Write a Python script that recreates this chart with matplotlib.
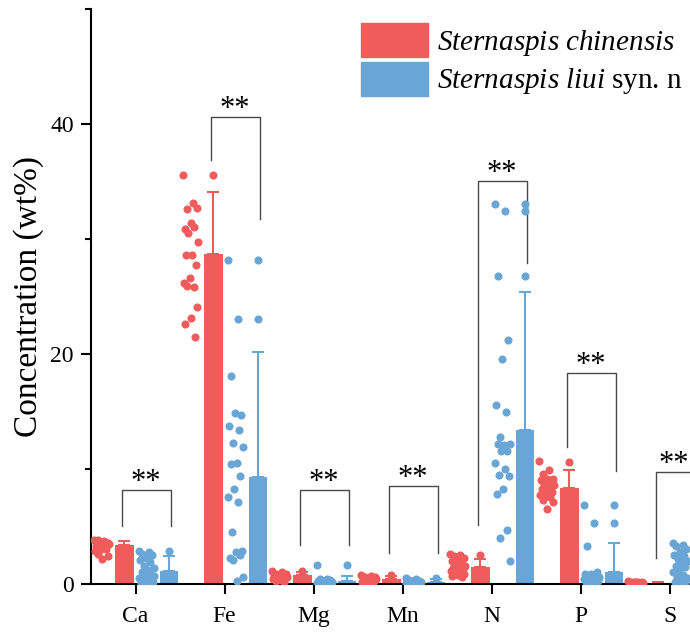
import numpy as np
import matplotlib
matplotlib.use('Agg')
import matplotlib.pyplot as plt
from matplotlib.patches import Patch
from matplotlib.ticker import MultipleLocator

plt.rcParams['font.family'] = ['Liberation Serif', 'DejaVu Serif']
plt.rcParams['mathtext.fontset'] = 'custom'
plt.rcParams['mathtext.rm'] = 'Liberation Serif'
plt.rcParams['mathtext.it'] = 'Liberation Serif:italic'

elements = ['Ca', 'Fe', 'Mg', 'Mn', 'N', 'P', 'S']

ca_chin = [3.8, 3.7, 3.8, 3.6, 3.5, 3.7, 3.4, 3.3, 3.5, 3.2, 3.1, 3.6, 3.0, 2.9, 3.4, 2.6, 2.4, 2.2, 3.3, 3.0]
ca_liui = [2.9, 2.8, 2.6, 2.5, 2.3, 2.1, 1.9, 1.6, 1.4, 1.2, 1.0, 0.8, 0.6, 0.5, 0.4, 0.3, 0.2, 0.2, 0.1, 0.15, 0.3, 0.7]
fe_chin = [35.6, 33.1, 32.6, 32.7, 31.4, 30.9, 31.0, 30.5, 29.7, 28.6, 28.6, 27.7, 26.6, 26.2, 25.8, 25.9, 24.1, 23.1, 22.6, 21.5]
fe_liui = [28.2, 23.0, 18.1, 14.7, 14.9, 13.7, 13.4, 12.3, 11.9, 10.5, 10.4, 9.4, 8.3, 7.6, 7.1, 4.5, 2.85, 2.8, 2.3, 2.5, 2.1, 0.65, 0.25]
mg_chin = [1.1, 1.0, 0.9, 0.9, 0.8, 0.8, 0.7, 0.7, 0.6, 0.6, 0.5, 0.5, 0.4, 0.4, 0.3, 0.3, 0.8, 0.7, 0.6, 0.2]
mg_liui = [1.65, 0.45, 0.4, 0.35, 0.3, 0.3, 0.25, 0.2, 0.2, 0.15, 0.15, 0.1, 0.1, 0.1, 0.05, 0.05, 0.2, 0.25, 0.3, 0.1]
mn_chin = [0.8, 0.7, 0.6, 0.6, 0.5, 0.5, 0.45, 0.4, 0.4, 0.35, 0.3, 0.3, 0.25, 0.2, 0.2, 0.15, 0.5, 0.4, 0.3, 0.25]
mn_liui = [0.55, 0.4, 0.35, 0.3, 0.3, 0.25, 0.2, 0.2, 0.15, 0.15, 0.1, 0.1, 0.1, 0.05, 0.05, 0.2, 0.15, 0.1, 0.25, 0.3]
n_chin = [2.6, 2.5, 2.4, 2.3, 2.2, 2.0, 1.9, 1.7, 1.6, 1.5, 1.4, 1.3, 1.2, 1.1, 1.0, 0.9, 0.9, 0.8, 0.7, 0.6]
n_liui = [33.0, 32.4, 26.8, 21.2, 19.6, 15.6, 14.95, 12.8, 12.2, 12.05, 12.2, 11.6, 11.6, 10.5, 10.0, 9.45, 9.35, 8.3, 7.85, 4.65, 4.0, 2.0]
p_chin = [10.7, 9.9, 9.6, 9.15, 9.15, 9.0, 9.0, 8.7, 8.6, 8.4, 8.3, 8.0, 7.85, 7.7, 7.55, 7.3, 7.1, 6.55]
p_liui = [6.9, 5.3, 3.3, 1.0, 0.9, 0.85, 0.8, 0.7, 0.65, 0.6, 0.55, 0.5, 0.45, 0.4, 0.35, 0.3, 0.25, 0.2, 0.15, 0.7]
s_chin = [0.25, 0.2, 0.2, 0.15, 0.15, 0.1, 0.1, 0.1, 0.05, 0.05, 0.05, 0.1, 0.15, 0.2, 0.1, 0.05, 0.05, 0.1, 0.1, 0.05]
s_liui = [3.6, 3.4, 3.3, 3.0, 2.8, 2.5, 2.4, 2.2, 2.0, 1.8, 1.6, 1.5, 1.2, 1.0, 0.8, 0.6, 0.5, 0.3, 0.2, 0.1]

chin_pts = [ca_chin, fe_chin, mg_chin, mn_chin, n_chin, p_chin, s_chin]
liui_pts = [ca_liui, fe_liui, mg_liui, mn_liui, n_liui, p_liui, s_liui]

# bar = mean, error bar = SD
chin_mean = [3.35, 28.65, 0.75, 0.4, 1.45, 8.37, 0.1]
chin_sd = [0.35, 5.45, 0.25, 0.3, 0.75, 1.55, 0.07]
liui_mean = [1.15, 9.3, 0.25, 0.15, 13.35, 1.0, 1.6]
liui_sd = [1.25, 10.9, 0.45, 0.3, 12.0, 2.55, 1.1]

# outlying points drawn on top of the bars
chin_out = [[], [35.6], [1.15], [0.8], [2.55], [10.6], []]
liui_out = [[2.9], [28.2, 23.0], [1.65], [0.55], [33.0, 32.4, 26.8], [6.9, 5.3], []]

# significance brackets: top, left leg end, right leg end
sig_top = [8.2, 40.6, 8.15, 8.5, 35.0, 18.35, 9.7]
sig_left = [5.0, 36.9, 3.35, 2.7, 5.1, 11.9, 2.25]
sig_right = [5.0, 31.7, 3.35, 2.7, 27.9, 9.8, 2.25]

red = '#F05B5C'
blue = '#69A6D6'

fig = plt.figure(figsize=(6.9, 6.39), dpi=100)
ax = fig.add_axes([0.1319, 0.0861, 0.8681, 0.9])

x = np.arange(len(elements))
bw = 0.21
ms = 34

def jitter(n, half=0.09):
    k = np.arange(n)
    return half * (((k * 0.618034) % 1.0) * 2 - 1)

ax.bar(x - 0.125, chin_mean, bw, color=red, zorder=2)
ax.bar(x + 0.375, liui_mean, bw, color=blue, zorder=2)
ax.errorbar(x - 0.125, chin_mean, yerr=[np.zeros(len(x)), chin_sd], fmt='none',
            ecolor=red, elinewidth=1.5, capsize=4, capthick=1.5, zorder=1)
ax.errorbar(x + 0.375, liui_mean, yerr=[np.zeros(len(x)), liui_sd], fmt='none',
            ecolor=blue, elinewidth=1.5, capsize=4, capthick=1.5, zorder=1)

for i in range(len(elements)):
    cp = np.array(chin_pts[i])
    lp = np.array(liui_pts[i])
    ax.scatter(i - 0.375 + jitter(len(cp)), cp, s=ms, color=red, lw=0, zorder=3)
    ax.scatter(i + 0.125 + jitter(len(lp)), lp, s=ms, color=blue, lw=0, zorder=3)
    if chin_out[i]:
        ax.scatter([i - 0.125] * len(chin_out[i]), chin_out[i], s=ms, color=red, lw=0, zorder=3)
    if liui_out[i]:
        ax.scatter([i + 0.375] * len(liui_out[i]), liui_out[i], s=ms, color=blue, lw=0, zorder=3)

    l, r = i - 0.155, i + 0.395
    ax.plot([l, l, r, r], [sig_left[i], sig_top[i], sig_top[i], sig_right[i]],
            color='#4a4a4a', lw=1, zorder=1)
    # last bracket runs off the right edge, keep its stars inside the figure
    tx = (l + r) / 2 if i < len(elements) - 1 else i + 0.05
    ax.text(tx, sig_top[i], '**', ha='center', va='baseline', fontsize=22)

ax.set_xlim(-0.5, 6.23)
ax.set_ylim(0, 50)
ax.set_xticks(x)
ax.set_xticklabels(elements)
ax.yaxis.set_major_locator(MultipleLocator(20))
ax.yaxis.set_minor_locator(MultipleLocator(10))
ax.tick_params(axis='both', which='major', length=7.5, width=1.5, labelsize=17, pad=5)
ax.tick_params(axis='x', pad=8)
ax.tick_params(axis='y', which='minor', length=4, width=1.5)
for s in ['top', 'right']:
    ax.spines[s].set_visible(False)
for s in ['left', 'bottom']:
    ax.spines[s].set_linewidth(1.5)
ax.set_ylabel('Concentration (wt%)', fontsize=24, labelpad=4)

handles = [Patch(color=red), Patch(color=blue)]
labels = [r'$\mathit{Sternaspis\ chinensis}$', r'$\mathit{Sternaspis\ liui}$ syn. n']
fig.legend(handles, labels, loc='upper left', bbox_to_anchor=(361 / 690, 1 - 23 / 639),
           bbox_transform=fig.transFigure, frameon=False, fontsize=21, borderpad=0,
           borderaxespad=0, handlelength=2.3, handleheight=1.4, handletextpad=0.3,
           labelspacing=0.15)

fig.savefig('out.png', dpi=100)
